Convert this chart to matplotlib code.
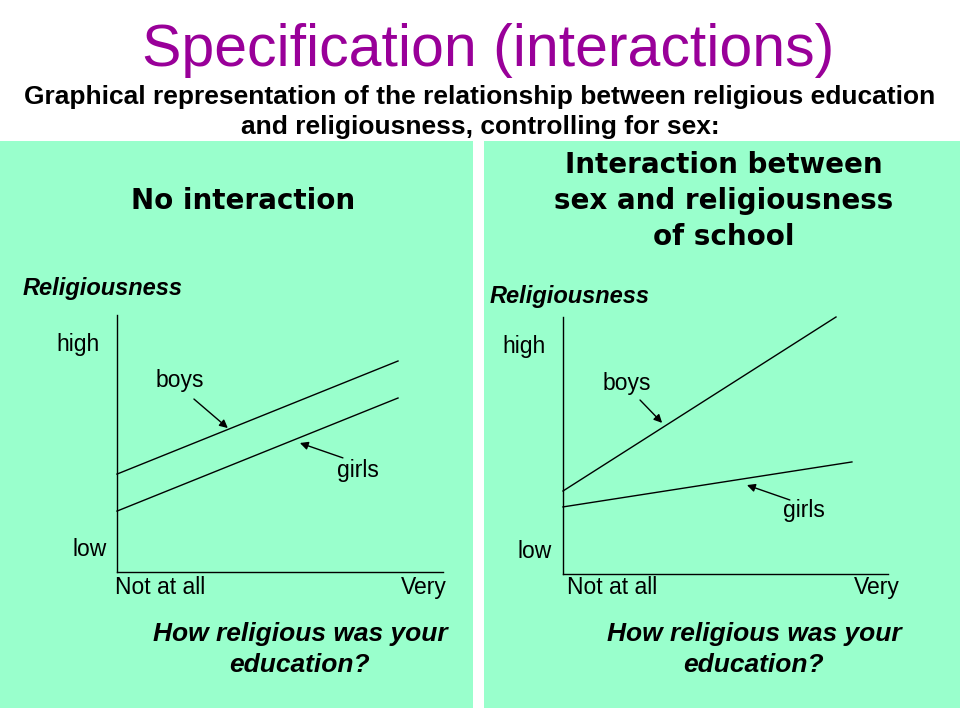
import matplotlib
matplotlib.use('Agg')
import matplotlib.pyplot as plt
from matplotlib.patches import Rectangle

GREEN = '#99ffcc'
PURPLE = '#990099'
ARIAL = ['Liberation Sans', 'DejaVu Sans']

# x: 0 = "Not at all", 1 = "Very"; y: 0 = low, 1 = high
X_ENDS = [0.0, 1.0]
LEFT_BOYS_X = [0.0, 0.862]
LEFT_BOYS_Y = [0.381, 0.821]
LEFT_GIRLS_X = [0.0, 0.862]
LEFT_GIRLS_Y = [0.237, 0.677]
RIGHT_BOYS_X = [0.0, 0.84]
RIGHT_BOYS_Y = [0.323, 1.0]
RIGHT_GIRLS_X = [0.0, 0.889]
RIGHT_GIRLS_Y = [0.261, 0.436]

# (label, text xy, arrow tip xy, arrow tail xy)
LEFT_NOTES = [('boys', (0.193, 0.747), (0.340, 0.560), (0.236, 0.673)),
              ('girls', (0.739, 0.393), (0.561, 0.502), (0.693, 0.444))]
RIGHT_NOTES = [('boys', (0.197, 0.743), (0.305, 0.588), (0.237, 0.677)),
               ('girls', (0.742, 0.249), (0.566, 0.346), (0.698, 0.288))]

fig = plt.figure(figsize=(9.6, 7.2), dpi=100)
bg = fig.add_axes([0, 0, 1, 1])
bg.set_xlim(0, 960)
bg.set_ylim(720, 0)
bg.axis('off')

bg.add_patch(Rectangle((0, 141), 473, 567, color=GREEN, lw=0))
bg.add_patch(Rectangle((484, 141), 476, 567, color=GREEN, lw=0))

bg.text(488, 50, 'Specification (interactions)', color=PURPLE, fontsize=42.5,
        family=ARIAL, ha='center', va='center')
bg.text(480, 97, 'Graphical representation of the relationship between religious education',
        fontsize=19, weight='bold', family=ARIAL, ha='center', va='center')
bg.text(480, 127, 'and religiousness, controlling for sex:',
        fontsize=19, weight='bold', family=ARIAL, ha='center', va='center')

bg.text(243, 201, 'No interaction', fontsize=20, weight='bold', ha='center', va='center')
for y, line in zip([165, 201, 237], ['Interaction between', 'sex and religiousness', 'of school']):
    bg.text(724, y, line, fontsize=20, weight='bold', ha='center', va='center')


def panel(rect_px, boys, girls, notes, lab):
    x0, y0, x1, y1 = rect_px
    ax = fig.add_axes([x0 / 960, 1 - y1 / 720, (x1 - x0) / 960, (y1 - y0) / 720])
    ax.set_facecolor('none')
    ax.set_xlim(X_ENDS)
    ax.set_ylim(0, 1)
    for s in ['top', 'right']:
        ax.spines[s].set_visible(False)
    for s in ['left', 'bottom']:
        ax.spines[s].set_linewidth(1.0)
    ax.set_xticks([])
    ax.set_yticks([])
    ax.plot(*boys, color='black', lw=1.0, clip_on=False)
    ax.plot(*girls, color='black', lw=1.0, clip_on=False)
    for text, txy, tip, tail in notes:
        ax.text(*txy, text, fontsize=16.5, family=ARIAL, ha='center', va='center')
        ax.annotate('', xy=tip, xytext=tail,
                    arrowprops=dict(arrowstyle='-|>', color='black', lw=1.0,
                                    mutation_scale=12, shrinkA=0, shrinkB=0))
    rel, high, low, notat, very, q = lab
    bg.text(*rel, 'Religiousness', fontsize=17, weight='bold', style='italic',
            family=ARIAL, ha='center', va='center')
    bg.text(*high, 'high', fontsize=16.5, family=ARIAL, ha='center', va='center')
    bg.text(*low, 'low', fontsize=16.5, family=ARIAL, ha='center', va='center')
    bg.text(*notat, 'Not at all', fontsize=16.5, family=ARIAL, ha='center', va='baseline')
    bg.text(*very, 'Very', fontsize=16.5, family=ARIAL, ha='center', va='baseline')
    bg.text(q, 634, 'How religious was your', fontsize=19, weight='bold', style='italic',
            family=ARIAL, ha='center', va='center')
    bg.text(q, 665, 'education?', fontsize=19, weight='bold', style='italic',
            family=ARIAL, ha='center', va='center')


panel((117, 315, 443, 572), (LEFT_BOYS_X, LEFT_BOYS_Y), (LEFT_GIRLS_X, LEFT_GIRLS_Y),
      LEFT_NOTES, ((103, 289), (78, 344), (90, 549), (160, 594), (424, 594), 300))
panel((563, 317, 888, 574), (RIGHT_BOYS_X, RIGHT_BOYS_Y), (RIGHT_GIRLS_X, RIGHT_GIRLS_Y),
      RIGHT_NOTES, ((570, 297), (524, 346), (535, 551), (612, 594), (877, 594), 754))

fig.savefig('out.png', dpi=100, facecolor='white')
